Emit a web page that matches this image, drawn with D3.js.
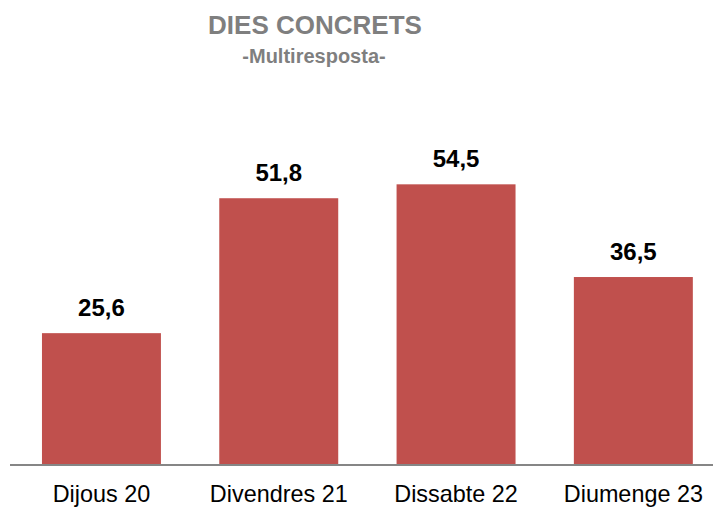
<!DOCTYPE html>
<html><head><meta charset="utf-8">
<script src="https://cdn.jsdelivr.net/npm/d3@7"></script>
<style>body{margin:0;background:#fff}svg{display:block;font-family:"Liberation Sans",Arial,sans-serif}</style>
</head><body><svg id="c" width="713" height="507"></svg>
<script>
const categories = ["Dijous 20", "Divendres 21", "Dissabte 22", "Diumenge 23"];
const values = [25.6, 51.8, 54.5, 36.5];
const title = "DIES CONCRETS";
const subtitle = "-Multiresposta-";

const svg = d3.select("#c");
const x = d3.scaleBand().domain(categories).range([12.8, 722]).paddingInner(0.329).paddingOuter(0.1645);
const y = d3.scaleLinear().domain([0, 60]).range([465, 465 - 309]);
const fmt = v => d3.format(".1f")(v).replace(".", ",");

svg.append("text").attr("x", 315).attr("y", 34).attr("text-anchor", "middle")
  .attr("font-size", 26).attr("font-weight", "bold").attr("fill", "#7f7f7f").text(title);
svg.append("text").attr("x", 314).attr("y", 63).attr("text-anchor", "middle")
  .attr("font-size", 20).attr("font-weight", "bold").attr("fill", "#7f7f7f").text(subtitle);

svg.selectAll("rect.bar").data(values).join("rect").attr("class", "bar")
  .attr("x", (d, i) => x(categories[i])).attr("width", x.bandwidth())
  .attr("y", d => y(d)).attr("height", d => y(0) - y(d)).attr("fill", "#C0504D");

svg.selectAll("text.val").data(values).join("text").attr("class", "val")
  .attr("x", (d, i) => x(categories[i]) + x.bandwidth() / 2).attr("y", d => y(d) - 17)
  .attr("text-anchor", "middle").attr("font-size", 24).attr("font-weight", "bold").attr("fill", "#000")
  .text(fmt);

const axis = svg.append("g").attr("transform", `translate(0,${y(0)})`)
  .call(d3.axisBottom(x).tickSize(0).tickPadding(20.5));
axis.select(".domain").attr("d", "M10,0H713").attr("stroke", "#868686").attr("stroke-width", 2);
axis.selectAll("text").attr("font-size", 23.4).attr("fill", "#000").attr("font-family", "Liberation Sans, Arial, sans-serif");
</script></body></html>
